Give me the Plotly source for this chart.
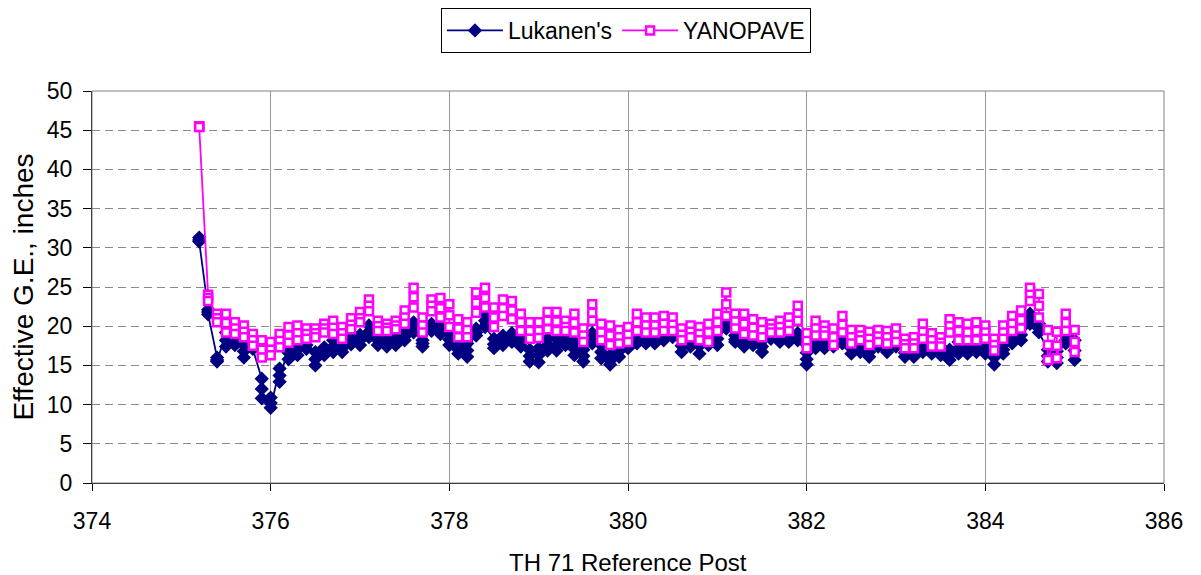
import plotly.graph_objects as go

# reference post of each test station (several drops per station)
stations = [
    375.2, 375.3, 375.4, 375.5, 375.6, 375.7, 375.8, 375.9, 376.0, 376.1,
    376.2, 376.3, 376.4, 376.5, 376.6, 376.7, 376.8, 376.9, 377.0, 377.1,
    377.2, 377.3, 377.4, 377.5, 377.6, 377.7, 377.8, 377.9, 378.0, 378.1,
    378.2, 378.3, 378.4, 378.5, 378.6, 378.7, 378.8, 378.9, 379.0, 379.1,
    379.2, 379.3, 379.4, 379.5, 379.6, 379.7, 379.8, 379.9, 380.0, 380.1,
    380.2, 380.3, 380.4, 380.5, 380.6, 380.7, 380.8, 380.9, 381.0, 381.1,
    381.2, 381.3, 381.4, 381.5, 381.6, 381.7, 381.8, 381.9, 382.0, 382.1,
    382.2, 382.3, 382.4, 382.5, 382.6, 382.7, 382.8, 382.9, 383.0, 383.1,
    383.2, 383.3, 383.4, 383.5, 383.6, 383.7, 383.8, 383.9, 384.0, 384.1,
    384.2, 384.3, 384.4, 384.5, 384.6, 384.7, 384.8, 384.9, 385.0,
]

lukanen = [
    [31.3, 31.0, 30.8], [22.1, 21.8, 21.5], [16.0, 15.7, 15.5], [19.2, 18.2, 17.4], [18.8, 18.1, 17.6],
    [17.6, 16.8, 16.0], [18.0, 17.5, 17.1], [13.3, 12.0, 10.8], [10.9, 10.2, 9.6], [14.6, 13.7, 12.9],
    [17.6, 16.6, 15.8], [18.0, 17.1, 16.3], [18.4, 17.6, 17.1], [16.7, 15.8, 15.0], [17.3, 16.8, 16.3],
    [18.2, 17.4, 16.7], [18.0, 17.2, 16.7], [18.8, 18.2, 17.7], [18.9, 18.2, 17.6], [20.1, 19.3, 18.6],
    [18.8, 18.2, 17.6], [18.6, 18.0, 17.4], [18.8, 18.1, 17.6], [19.3, 18.7, 18.2], [20.5, 19.8, 19.2],
    [18.2, 17.8, 17.4], [20.3, 19.8, 19.4], [20.1, 19.5, 19.0], [19.1, 18.3, 17.6], [17.6, 17.0, 16.5],
    [17.8, 16.9, 16.1], [19.7, 19.2, 18.8], [21.6, 20.7, 19.9], [18.4, 17.7, 17.2], [18.8, 18.2, 17.6],
    [19.1, 18.5, 18.0], [18.4, 17.8, 17.4], [17.0, 16.2, 15.5], [17.2, 16.3, 15.4], [18.4, 17.6, 16.9],
    [18.4, 17.5, 16.9], [18.6, 18.0, 17.6], [18.0, 17.1, 16.3], [17.0, 16.2, 15.5], [19.1, 18.4, 17.8],
    [17.6, 16.7, 15.9], [16.3, 15.6, 15.1], [17.6, 16.8, 16.1], [18.4, 17.7, 17.2], [18.8, 18.2, 17.8],
    [19.1, 18.4, 17.8], [18.8, 18.2, 17.8], [19.3, 18.7, 18.2], [19.3, 18.9, 18.6], [18.4, 17.5, 16.7],
    [18.4, 17.8, 17.4], [18.6, 17.5, 16.5], [18.6, 18.0, 17.6], [19.3, 18.4, 17.6], [20.9, 20.2, 19.7],
    [18.8, 18.3, 18.0], [18.6, 18.0, 17.4], [18.6, 18.0, 17.6], [18.2, 17.4, 16.7], [19.3, 18.8, 18.4],
    [18.8, 18.3, 18.0], [19.1, 18.5, 18.0], [19.1, 18.6, 18.2], [16.6, 15.8, 15.1], [18.4, 17.7, 17.2],
    [18.2, 17.6, 17.2], [18.4, 17.8, 17.4], [18.8, 18.2, 17.8], [18.0, 17.2, 16.5], [17.8, 17.2, 16.7],
    [17.4, 16.7, 16.1], [18.0, 17.6, 17.4], [17.8, 17.1, 16.7], [18.2, 17.7, 17.4], [17.2, 16.6, 16.1],
    [17.2, 16.6, 16.1], [17.8, 17.2, 16.7], [17.4, 16.9, 16.5], [17.4, 16.8, 16.3], [17.0, 16.3, 15.7],
    [18.0, 17.2, 16.5], [18.0, 17.2, 16.5], [18.0, 17.3, 16.7], [17.8, 17.1, 16.5], [17.0, 16.0, 15.1],
    [17.6, 17.0, 16.5], [18.8, 18.2, 17.8], [19.7, 18.9, 18.2], [21.6, 20.9, 20.3], [20.3, 19.7, 19.2],
    [17.0, 16.2, 15.5], [16.8, 16.0, 15.3], [18.8, 18.2, 17.8], [18.2, 16.9, 15.7],
]

yanopave = [
    [45.5, 45.5, 45.4], [24.0, 23.6, 23.2], [21.6, 21.0, 20.5], [21.6, 20.4, 19.2], [20.5, 19.7, 19.0],
    [20.1, 19.3, 18.6], [19.0, 18.2, 17.5], [18.2, 17.0, 16.0], [18.0, 17.0, 16.3], [19.0, 18.1, 17.3],
    [19.9, 18.8, 17.9], [20.1, 19.1, 18.2], [19.7, 19.0, 18.4], [19.7, 19.1, 18.6], [20.3, 19.7, 19.2],
    [20.7, 19.8, 19.0], [19.9, 19.1, 18.4], [21.0, 20.2, 19.6], [21.8, 21.0, 20.5], [23.4, 22.6, 21.9],
    [20.7, 20.0, 19.4], [20.3, 19.8, 19.4], [20.7, 20.1, 19.6], [22.0, 21.1, 20.3], [24.9, 23.7, 22.4],
    [21.1, 20.1, 19.2], [23.4, 22.6, 21.9], [23.6, 22.3, 21.1], [22.8, 21.4, 19.9], [20.9, 19.7, 18.6],
    [20.5, 19.5, 18.6], [24.3, 23.0, 21.7], [24.9, 23.6, 22.4], [22.4, 21.1, 19.9], [23.4, 22.3, 21.3],
    [23.2, 22.0, 20.9], [21.6, 20.5, 19.4], [20.5, 19.4, 18.4], [20.5, 19.4, 18.5], [21.8, 20.7, 19.6],
    [21.8, 20.6, 19.4], [20.7, 19.9, 19.4], [21.6, 20.4, 19.2], [19.7, 18.8, 18.0], [22.8, 21.7, 20.7],
    [20.3, 19.2, 18.2], [20.1, 18.8, 17.6], [19.5, 18.6, 17.8], [19.9, 18.9, 18.0], [21.6, 20.5, 19.4],
    [21.1, 20.1, 19.2], [21.1, 20.1, 19.2], [21.3, 20.3, 19.4], [21.1, 20.2, 19.4], [19.7, 18.9, 18.2],
    [20.1, 19.3, 18.6], [19.9, 19.0, 18.2], [20.3, 19.2, 18.0], [21.6, 20.5, 19.4], [24.3, 22.8, 21.3],
    [21.6, 20.6, 19.7], [21.6, 20.3, 19.0], [20.9, 19.8, 18.8], [20.5, 19.5, 18.6], [20.3, 19.7, 19.2],
    [20.7, 19.9, 19.2], [21.1, 20.2, 19.4], [22.6, 21.6, 20.7], [19.1, 18.1, 17.2], [20.7, 19.7, 18.8],
    [20.1, 19.4, 18.8], [19.7, 18.6, 17.6], [21.3, 20.2, 19.2], [19.5, 18.6, 17.8], [19.5, 18.8, 18.2],
    [19.3, 18.4, 17.6], [19.5, 18.7, 18.0], [19.4, 18.6, 17.8], [19.7, 18.8, 18.0], [18.4, 17.7, 17.2],
    [18.6, 17.8, 17.2], [20.3, 19.3, 18.4], [19.1, 18.2, 17.4], [18.6, 17.9, 17.4], [20.9, 20.0, 19.2],
    [20.5, 19.4, 18.2], [20.3, 19.2, 18.2], [20.5, 19.4, 18.2], [20.1, 19.2, 18.4], [18.4, 17.6, 16.9],
    [20.1, 19.2, 18.4], [21.3, 20.3, 19.4], [22.0, 20.8, 19.7], [24.9, 24.0, 23.2], [24.1, 22.6, 21.1],
    [19.5, 17.6, 15.7], [19.3, 17.5, 15.9], [21.6, 20.4, 19.4], [19.5, 18.0, 16.7],
]

series_names = ["Lukanen's", "YANOPAVE"]
x_ticks = [374, 376, 378, 380, 382, 384, 386]
y_ticks = [0, 5, 10, 15, 20, 25, 30, 35, 40, 45, 50]


def flatten(drops):
    xs, ys = [], []
    for st, vals in zip(stations, drops):
        for v in vals:
            xs.append(st)
            ys.append(v)
    return xs, ys


fig = go.Figure()

xl, yl = flatten(lukanen)
fig.add_trace(go.Scatter(
    x=xl, y=yl, name=series_names[0], mode="lines+markers",
    line=dict(color="#000080", width=1.8),
    marker=dict(symbol="diamond", size=11, color="#000080"),
))

xy, yy = flatten(yanopave)
fig.add_trace(go.Scatter(
    x=xy, y=yy, name=series_names[1], mode="lines+markers",
    line=dict(color="#FF00FF", width=1.8),
    marker=dict(symbol="square", size=8, color="white",
                line=dict(color="#FF00FF", width=2.5)),
))

font = "Liberation Sans, Arial, sans-serif"

# the page body adds an 8px offset, so the figure is a bit smaller than the window
fig.update_layout(
    width=1193, height=567,
    margin=dict(l=84, r=37, t=83, b=92),
    paper_bgcolor="white", plot_bgcolor="white",
    font=dict(family=font, size=23, color="black"),
    showlegend=True,
    legend=dict(
        orientation="h", xref="container", yref="container",
        x=0.518, xanchor="center", y=1.0, yanchor="top",
        bordercolor="black", borderwidth=1, bgcolor="white",
        font=dict(size=23), itemwidth=56,
    ),
    shapes=[dict(type="rect", xref="paper", yref="paper", x0=0, y0=0, x1=1, y1=1,
                 line=dict(color="#808080", width=1))],
    annotations=[dict(text="TH 71 Reference Post", xref="paper", yref="paper",
                      x=0.5, y=-0.204, xanchor="center", yanchor="middle",
                      showarrow=False, font=dict(family=font, size=24, color="black"))],
)

fig.update_xaxes(
    range=[374, 386], tickvals=x_ticks, ticks="outside", ticklen=7, tickcolor="black",
    showline=True, linecolor="black", linewidth=1,
    showgrid=True, gridcolor="#9a9a9a", gridwidth=1,
    zeroline=False, automargin=False, ticklabelstandoff=10,
)

fig.update_yaxes(
    range=[0, 50], tickvals=y_ticks, ticks="outside", ticklen=8, tickcolor="black",
    showline=True, linecolor="black", linewidth=1,
    showgrid=True, gridcolor="#8a8a8a", gridwidth=1, griddash="8px,5px",
    zeroline=False, automargin=False, ticklabelstandoff=6,
    title=dict(text="Effective G.E., inches", standoff=8),
)

fig.write_html("out.html")
